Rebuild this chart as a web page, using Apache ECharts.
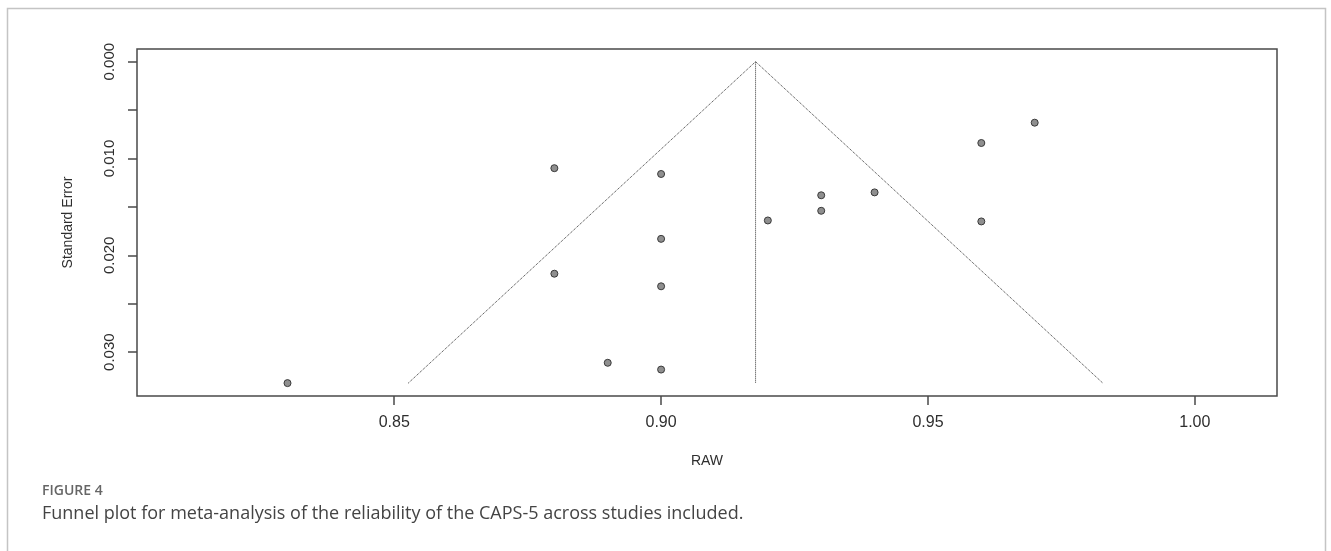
<!DOCTYPE html>
<html>
<head>
<meta charset="utf-8">
<script src="https://cdn.jsdelivr.net/npm/echarts@6/dist/echarts.min.js"></script>
<style>
html,body{margin:0;padding:0;background:#fff;}
#chart{width:1331px;height:551px;}
</style>
</head>
<body>
<div id="chart"></div>
<script>
// Observed effect sizes (RAW reliability) and their standard errors
const rawValues = [0.83, 0.88, 0.88, 0.89, 0.90, 0.90, 0.90, 0.90, 0.92, 0.93, 0.93, 0.94, 0.96, 0.96, 0.97];
const seValues  = [0.0332, 0.0110, 0.0219, 0.0311, 0.0116, 0.0183, 0.0232, 0.0318, 0.0164, 0.0138, 0.0154, 0.0135, 0.0084, 0.0165, 0.0063];
// Pooled estimate and funnel depth
const pooledEstimate = 0.9177;
const funnelMaxSE = 0.0332;
const zCrit = 1.96;
// Tick labels
const xTickLabels = [0.85, 0.90, 0.95, 1.00];
const yTickLabels = [0.000, 0.010, 0.020, 0.030];
const yMinorTicks = [0.000, 0.005, 0.010, 0.015, 0.020, 0.025, 0.030];
// Axis ranges
const xRange = [0.8018, 1.0154];
const yRange = [-0.00131, 0.03453];

const points = rawValues.map((v, i) => [v, seValues[i]]);
const funnel = [
  [pooledEstimate - zCrit * funnelMaxSE, funnelMaxSE],
  [pooledEstimate, 0],
  [pooledEstimate + zCrit * funnelMaxSE, funnelMaxSE]
];
const centerLine = [[pooledEstimate, 0], [pooledEstimate, funnelMaxSE]];

const axisColor = '#4a4a4a';
const textColor = '#2e2e2e';
const font = 'Liberation Sans, Arial, sans-serif';

const chart = echarts.init(document.getElementById('chart'), null, {renderer: 'canvas'});
chart.setOption({
  animation: false,
  backgroundColor: '#fff',
  grid: {left: 137, right: 54, top: 49, bottom: 155, show: true, borderColor: axisColor, borderWidth: 1.5, backgroundColor: 'transparent'},
  xAxis: {
    type: 'value', min: xRange[0], max: xRange[1], position: 'bottom',
    name: 'RAW', nameLocation: 'middle', nameGap: 58,
    nameTextStyle: {color: textColor, fontSize: 14, fontFamily: font},
    axisLine: {show: false, onZero: false},
    splitLine: {show: false},
    axisTick: {show: true, length: 9, customValues: xTickLabels, lineStyle: {color: axisColor, width: 1.5}},
    axisLabel: {customValues: xTickLabels, margin: 19, color: textColor, fontSize: 16, fontFamily: font,
      formatter: v => Number(v).toFixed(2)}
  },
  yAxis: {
    type: 'value', inverse: true, min: yRange[0], max: yRange[1], position: 'left',
    name: 'Standard Error', nameLocation: 'middle', nameGap: 62,
    nameTextStyle: {color: textColor, fontSize: 14, fontFamily: font},
    axisLine: {show: false, onZero: false},
    splitLine: {show: false},
    axisTick: {show: true, length: 9, customValues: yMinorTicks, lineStyle: {color: axisColor, width: 1.5}},
    axisLabel: {customValues: yTickLabels, rotate: 90, margin: 20, color: textColor, fontSize: 15, fontFamily: font,
      formatter: v => Number(v).toFixed(3)}
  },
  series: [
    {type: 'line', data: funnel, symbol: 'none', silent: true,
      lineStyle: {color: '#333', width: 1, type: 'dotted'}},
    {type: 'line', data: centerLine, symbol: 'none', silent: true,
      lineStyle: {color: '#333', width: 1, type: 'dotted'}},
    {type: 'scatter', data: points, symbol: 'circle', symbolSize: 7,
      itemStyle: {color: '#8f8f8f', borderColor: '#3a3a3a', borderWidth: 1, opacity: 1}}
  ],
  graphic: [
    {type: 'rect', shape: {x: 7.5, y: 8.5, width: 1318, height: 600},
      style: {fill: 'none', stroke: '#c4c4c4', lineWidth: 1.5}, silent: true},
    {type: 'text', left: 42, top: 484,
      style: {text: 'FIGURE 4', fill: '#666', font: '600 14px "Open Sans", sans-serif'}},
    {type: 'text', left: 42, top: 505,
      style: {text: 'Funnel plot for meta-analysis of the reliability of the CAPS-5 across studies included.', fill: '#444', font: '18px "Open Sans", sans-serif'}}
  ]
});
</script>
</body>
</html>
